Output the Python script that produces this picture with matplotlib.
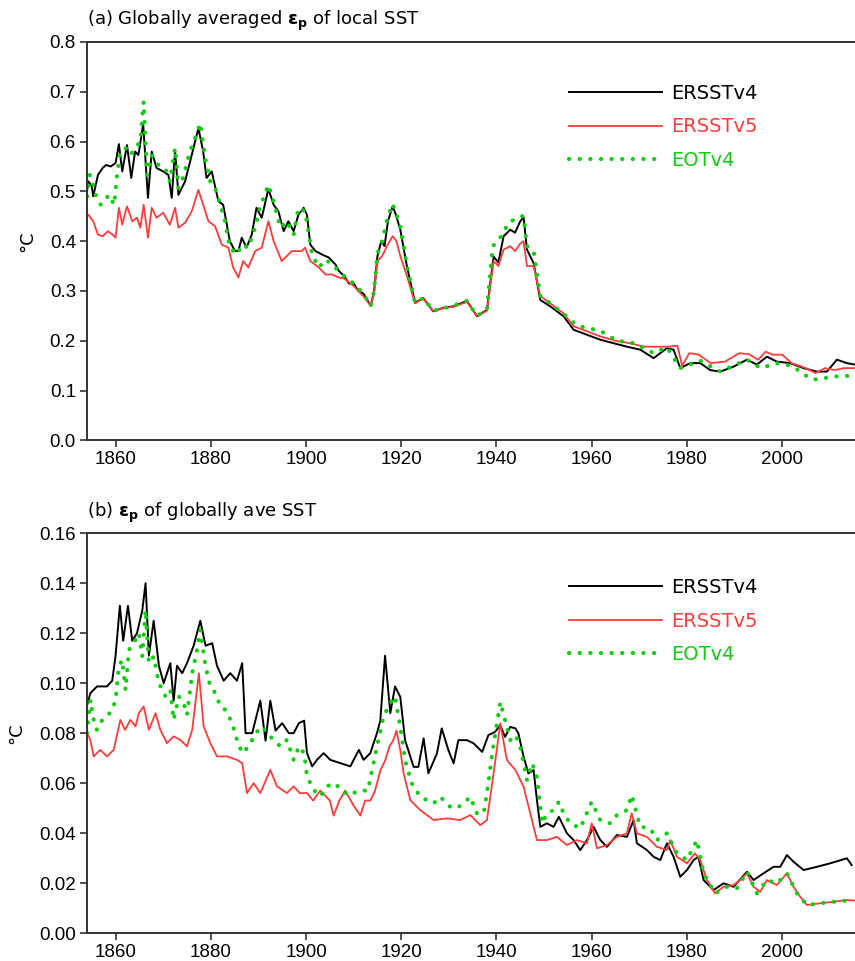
import matplotlib
matplotlib.use("Agg")
import matplotlib.pyplot as plt

# ---------------- data: panel (a) Globally averaged eps_p of local SST ----------------
a_v4_years = [1854.0, 1854.3, 1855.0, 1855.3, 1856.3, 1857.3, 1858.0, 1859.0, 1860.0, 1860.7,
              1861.4, 1862.4, 1863.3, 1864.1, 1864.8, 1865.8, 1866.8, 1867.6, 1868.6, 1870.0,
              1871.1, 1871.8, 1872.5, 1873.2, 1874.6, 1876.0, 1877.4, 1878.4, 1879.1, 1880.2,
              1881.6, 1882.6, 1884.0, 1885.1, 1885.8, 1886.5, 1887.5, 1888.6, 1889.6, 1890.7,
              1892.1, 1893.2, 1894.2, 1895.3, 1896.3, 1897.4, 1898.4, 1899.5, 1900.2, 1900.9,
              1902.0, 1903.4, 1904.8, 1906.2, 1906.9, 1908.0, 1909.0, 1910.0, 1911.0, 1912.0,
              1913.0, 1913.6, 1914.3, 1915.0, 1915.8, 1916.5, 1917.2, 1918.2, 1918.8, 1919.8,
              1921.2, 1922.9, 1924.6, 1926.7, 1928.8, 1930.9, 1933.8, 1935.9, 1938.0, 1939.4,
              1940.4, 1941.5, 1942.9, 1943.9, 1945.0, 1945.7, 1946.4, 1947.8, 1949.2, 1951.3,
              1954.1, 1956.2, 1959.0, 1961.8, 1964.6, 1967.4, 1970.2, 1973.0, 1975.8, 1977.2,
              1978.6, 1980.7, 1982.8, 1984.9, 1987.0, 1989.8, 1992.6, 1994.7, 1996.8, 1998.9,
              2001.7, 2004.5, 2007.3, 2009.4, 2011.5, 2013.6, 2015.3]
a_v4 = [0.500, 0.520, 0.510, 0.490, 0.533, 0.547, 0.553, 0.550, 0.557, 0.595,
        0.540, 0.593, 0.527, 0.580, 0.573, 0.635, 0.487, 0.580, 0.547, 0.540,
        0.533, 0.487, 0.580, 0.493, 0.520, 0.573, 0.627, 0.580, 0.527, 0.540,
        0.480, 0.473, 0.400, 0.380, 0.380, 0.407, 0.387, 0.413, 0.467, 0.447,
        0.505, 0.473, 0.460, 0.420, 0.440, 0.420, 0.453, 0.467, 0.453, 0.393,
        0.380, 0.373, 0.367, 0.353, 0.340, 0.330, 0.315, 0.315, 0.300, 0.295,
        0.280, 0.270, 0.300, 0.370, 0.400, 0.390, 0.440, 0.470, 0.455, 0.423,
        0.349, 0.276, 0.286, 0.259, 0.266, 0.269, 0.280, 0.249, 0.262, 0.369,
        0.357, 0.410, 0.423, 0.417, 0.440, 0.448, 0.383, 0.356, 0.282, 0.269,
        0.249, 0.222, 0.212, 0.202, 0.195, 0.188, 0.182, 0.165, 0.185, 0.182,
        0.145, 0.155, 0.155, 0.141, 0.138, 0.148, 0.162, 0.152, 0.168, 0.158,
        0.155, 0.145, 0.138, 0.138, 0.162, 0.155, 0.152]

a_v5_years = [1854.0, 1854.3, 1855.3, 1856.3, 1857.3, 1858.4, 1859.4, 1860.0, 1860.7, 1861.4,
              1862.4, 1863.5, 1864.5, 1865.2, 1865.9, 1866.8, 1867.6, 1868.6, 1870.0, 1871.4,
              1872.5, 1873.2, 1874.6, 1876.0, 1877.4, 1878.4, 1879.5, 1880.9, 1882.3, 1883.7,
              1884.7, 1885.8, 1886.8, 1887.9, 1889.3, 1890.7, 1892.1, 1893.2, 1894.9, 1897.0,
              1899.1, 1899.8, 1900.9, 1902.7, 1904.1, 1905.5, 1906.9, 1908.0, 1910.0, 1912.0,
              1913.6, 1914.3, 1915.0, 1916.0, 1917.0, 1918.2, 1919.0, 1919.8, 1921.2, 1922.9,
              1924.6, 1926.7, 1928.8, 1930.9, 1933.8, 1935.9, 1938.0, 1939.4, 1940.4, 1941.5,
              1942.9, 1943.9, 1945.0, 1945.7, 1946.4, 1947.8, 1949.2, 1951.3, 1954.1, 1956.2,
              1959.0, 1962.0, 1965.0, 1968.0, 1971.0, 1974.0, 1976.0, 1978.0, 1979.0, 1980.5,
              1982.5, 1985.0, 1988.0, 1991.0, 1993.0, 1995.0, 1996.5, 1998.0, 2000.0, 2002.0,
              2005.0, 2007.0, 2009.0, 2011.0, 2013.0, 2015.3]
a_v5 = [0.450, 0.453, 0.440, 0.413, 0.410, 0.420, 0.413, 0.407, 0.467, 0.433,
        0.470, 0.440, 0.447, 0.427, 0.473, 0.407, 0.467, 0.447, 0.457, 0.433,
        0.467, 0.427, 0.437, 0.460, 0.503, 0.473, 0.440, 0.430, 0.393, 0.387,
        0.347, 0.327, 0.360, 0.347, 0.380, 0.387, 0.440, 0.400, 0.360, 0.380,
        0.380, 0.387, 0.360, 0.347, 0.333, 0.333, 0.327, 0.325, 0.310, 0.290,
        0.270, 0.295, 0.360, 0.370, 0.390, 0.410, 0.400, 0.370, 0.330, 0.275,
        0.285, 0.260, 0.265, 0.268, 0.278, 0.250, 0.260, 0.360, 0.350, 0.383,
        0.390, 0.380, 0.395, 0.400, 0.350, 0.350, 0.290, 0.275, 0.255, 0.229,
        0.219, 0.208, 0.200, 0.195, 0.188, 0.188, 0.188, 0.190, 0.150, 0.175,
        0.172, 0.155, 0.158, 0.175, 0.173, 0.162, 0.178, 0.172, 0.172, 0.155,
        0.145, 0.135, 0.145, 0.141, 0.145, 0.145]

a_eot_years = [1854.0, 1854.6, 1855.3, 1856.0, 1856.9, 1857.7, 1858.7, 1859.7, 1860.3, 1861.0,
               1862.1, 1863.1, 1864.1, 1865.2, 1865.9, 1866.6, 1867.6, 1869.0, 1870.4, 1871.4,
               1872.5, 1873.2, 1874.2, 1875.6, 1876.7, 1877.8, 1878.8, 1879.9, 1880.9, 1882.0,
               1883.0, 1884.0, 1885.5, 1886.5, 1887.9, 1889.3, 1890.3, 1892.1, 1893.2, 1894.6,
               1896.0, 1897.4, 1898.4, 1899.8, 1901.3, 1902.7, 1904.1, 1905.5, 1906.9, 1908.0,
               1910.0, 1912.0, 1913.6, 1914.3, 1915.0, 1916.0, 1917.2, 1918.2, 1918.8, 1919.8,
               1921.2, 1922.9, 1924.6, 1926.7, 1928.8, 1930.9, 1933.8, 1935.9, 1938.0, 1939.2,
               1940.4, 1941.5, 1942.9, 1943.9, 1945.0, 1945.7, 1946.4, 1947.8, 1949.2, 1950.6,
               1953.4, 1957.0, 1961.8, 1965.3, 1968.9, 1973.0, 1975.8, 1978.6, 1982.8, 1987.0,
               1992.6, 1995.5, 1998.9, 2001.7, 2004.5, 2005.5, 2007.3, 2010.8, 2015.3]
a_eot = [0.490, 0.533, 0.513, 0.487, 0.473, 0.483, 0.493, 0.473, 0.533, 0.580,
         0.587, 0.573, 0.587, 0.600, 0.680, 0.533, 0.573, 0.553, 0.547, 0.520,
         0.587, 0.507, 0.527, 0.580, 0.607, 0.637, 0.567, 0.520, 0.507, 0.473,
         0.440, 0.387, 0.373, 0.393, 0.387, 0.427, 0.467, 0.513, 0.480, 0.427,
         0.440, 0.413, 0.467, 0.460, 0.373, 0.347, 0.363, 0.353, 0.340, 0.330,
         0.315, 0.295, 0.270, 0.300, 0.375, 0.400, 0.450, 0.475, 0.460, 0.430,
         0.350, 0.276, 0.286, 0.260, 0.265, 0.270, 0.280, 0.250, 0.262, 0.390,
         0.400, 0.420, 0.440, 0.443, 0.450, 0.450, 0.390, 0.380, 0.290, 0.280,
         0.260, 0.230, 0.220, 0.200, 0.195, 0.175, 0.187, 0.145, 0.160, 0.138,
         0.162, 0.145, 0.155, 0.150, 0.135, 0.125, 0.122, 0.128, 0.130]

# ---------------- data: panel (b) eps_p of globally ave SST ----------------
b_v4_years = [1854.0, 1854.7, 1856.1, 1858.2, 1859.3, 1860.0, 1860.9, 1861.6, 1862.6, 1863.5,
              1864.5, 1865.6, 1866.3, 1867.0, 1868.0, 1869.1, 1870.1, 1871.5, 1872.2, 1872.9,
              1874.0, 1875.0, 1876.4, 1877.8, 1878.9, 1880.3, 1881.3, 1882.7, 1884.1, 1885.5,
              1886.6, 1887.3, 1888.7, 1890.4, 1891.5, 1892.5, 1893.6, 1895.0, 1896.4, 1897.4,
              1898.5, 1899.6, 1900.2, 1901.3, 1902.3, 1903.7, 1905.1, 1907.2, 1909.3, 1911.1,
              1912.1, 1913.5, 1914.9, 1915.6, 1916.6, 1917.7, 1918.7, 1919.8, 1920.8, 1922.6,
              1923.6, 1924.7, 1925.7, 1927.5, 1928.5, 1929.9, 1931.0, 1932.0, 1933.8, 1935.2,
              1937.0, 1938.3, 1939.7, 1940.8, 1941.8, 1942.9, 1944.0, 1944.6, 1945.7, 1946.7,
              1947.8, 1948.5, 1949.2, 1950.6, 1952.0, 1953.1, 1954.8, 1956.2, 1957.6, 1959.0,
              1960.4, 1961.8, 1963.2, 1965.3, 1967.4, 1968.8, 1969.5, 1971.6, 1973.0, 1974.4,
              1975.8, 1977.2, 1978.6, 1980.0, 1981.4, 1982.4, 1983.5, 1985.6, 1987.7, 1989.8,
              1992.6, 1994.0, 1996.1, 1998.2, 1999.6, 2001.0, 2002.4, 2004.5, 2007.3, 2010.1,
              2013.6, 2014.6]
b_v4 = [0.0910, 0.0960, 0.0987, 0.0987, 0.1010, 0.1110, 0.1310, 0.1170, 0.1310, 0.1170,
        0.1200, 0.1290, 0.1400, 0.1110, 0.1250, 0.1070, 0.1000, 0.1080, 0.0930, 0.1070,
        0.1040, 0.1080, 0.1150, 0.1250, 0.1150, 0.1160, 0.1070, 0.1010, 0.1040, 0.1010,
        0.1080, 0.0800, 0.0800, 0.0930, 0.0770, 0.0930, 0.0810, 0.0840, 0.0800, 0.0800,
        0.0840, 0.0850, 0.0720, 0.0667, 0.0693, 0.0720, 0.0693, 0.0680, 0.0667, 0.0733,
        0.0693, 0.0720, 0.0800, 0.0850, 0.1110, 0.0880, 0.0987, 0.0945, 0.0772, 0.0665,
        0.0665, 0.0779, 0.0639, 0.0719, 0.0819, 0.0732, 0.0679, 0.0772, 0.0772, 0.0759,
        0.0725, 0.0792, 0.0805, 0.0832, 0.0785, 0.0825, 0.0819, 0.0799, 0.0705, 0.0639,
        0.0652, 0.0532, 0.0425, 0.0439, 0.0425, 0.0465, 0.0399, 0.0372, 0.0332, 0.0372,
        0.0425, 0.0372, 0.0345, 0.0392, 0.0385, 0.0452, 0.0359, 0.0332, 0.0305, 0.0292,
        0.0359, 0.0305, 0.0225, 0.0252, 0.0292, 0.0305, 0.0212, 0.0172, 0.0199, 0.0185,
        0.0245, 0.0212, 0.0239, 0.0265, 0.0265, 0.0312, 0.0285, 0.0252, 0.0265, 0.0279,
        0.0299, 0.0272]

b_v5_years = [1854.0, 1854.7, 1855.4, 1856.8, 1858.2, 1859.6, 1861.0, 1862.0, 1863.1, 1864.2,
              1864.9, 1865.9, 1867.0, 1868.4, 1869.4, 1870.8, 1872.2, 1873.6, 1875.0, 1876.1,
              1877.5, 1878.5, 1879.9, 1881.3, 1883.4, 1885.5, 1886.6, 1887.6, 1889.0, 1890.4,
              1892.5, 1893.9, 1896.0, 1897.4, 1898.7, 1900.2, 1901.5, 1903.0, 1905.0, 1905.8,
              1907.0, 1908.2, 1910.0, 1911.4, 1912.4, 1913.5, 1914.5, 1915.6, 1916.6, 1917.6,
              1918.3, 1919.0, 1919.8, 1920.5, 1921.9, 1924.0, 1926.8, 1929.6, 1932.4, 1934.5,
              1936.6, 1938.0, 1939.4, 1940.8, 1942.2, 1944.0, 1945.7, 1947.1, 1948.5, 1950.6,
              1952.7, 1954.8, 1956.9, 1959.0, 1960.0, 1961.1, 1963.2, 1965.3, 1967.4, 1968.4,
              1969.5, 1971.6, 1973.7, 1975.8, 1976.5, 1977.9, 1980.0, 1981.7, 1982.8, 1984.2,
              1985.9, 1987.7, 1989.8, 1991.2, 1992.6, 1994.0, 1995.4, 1996.8, 1998.9, 2001.0,
              2002.4, 2003.8, 2005.2, 2008.0, 2010.8, 2013.6, 2015.3]
b_v5 = [0.0800, 0.0773, 0.0707, 0.0733, 0.0707, 0.0733, 0.0853, 0.0813, 0.0853, 0.0827,
        0.0880, 0.0907, 0.0813, 0.0880, 0.0813, 0.0760, 0.0787, 0.0773, 0.0747, 0.0813,
        0.1040, 0.0827, 0.0760, 0.0707, 0.0707, 0.0693, 0.0680, 0.0560, 0.0600, 0.0560,
        0.0653, 0.0587, 0.0560, 0.0587, 0.0560, 0.0560, 0.0530, 0.0570, 0.0530, 0.0470,
        0.0530, 0.0570, 0.0510, 0.0470, 0.0530, 0.0530, 0.0570, 0.0650, 0.0690, 0.0750,
        0.0770, 0.0810, 0.0732, 0.0639, 0.0532, 0.0492, 0.0452, 0.0459, 0.0452, 0.0472,
        0.0432, 0.0452, 0.0639, 0.0839, 0.0692, 0.0652, 0.0585, 0.0479, 0.0372, 0.0372,
        0.0385, 0.0352, 0.0372, 0.0359, 0.0439, 0.0339, 0.0352, 0.0385, 0.0399, 0.0479,
        0.0399, 0.0385, 0.0345, 0.0332, 0.0372, 0.0305, 0.0279, 0.0319, 0.0292, 0.0212,
        0.0159, 0.0185, 0.0192, 0.0212, 0.0239, 0.0185, 0.0165, 0.0212, 0.0192, 0.0239,
        0.0185, 0.0145, 0.0112, 0.0119, 0.0125, 0.0132, 0.0130]

b_eot_years = [1854.0, 1854.7, 1855.4, 1856.1, 1857.2, 1858.2, 1859.3, 1860.0, 1860.7, 1861.4,
               1862.1, 1862.8, 1863.8, 1864.9, 1865.6, 1866.3, 1867.0, 1868.0, 1869.1, 1870.5,
               1871.5, 1872.2, 1873.3, 1874.3, 1875.0, 1876.1, 1877.1, 1877.8, 1878.9, 1879.9,
               1881.0, 1882.0, 1883.1, 1884.5, 1885.5, 1886.6, 1888.0, 1889.4, 1890.8, 1891.8,
               1893.2, 1894.6, 1896.0, 1897.4, 1898.5, 1899.6, 1900.2, 1901.6, 1903.0, 1904.4,
               1905.8, 1907.2, 1909.0, 1911.0, 1913.0, 1914.9, 1916.3, 1917.7, 1918.7, 1919.8,
               1920.8, 1922.2, 1924.0, 1925.4, 1926.8, 1928.2, 1930.3, 1931.7, 1933.8, 1934.5,
               1935.9, 1937.3, 1938.3, 1939.0, 1940.1, 1940.8, 1941.8, 1942.9, 1944.0, 1945.0,
               1946.4, 1947.5, 1948.5, 1949.6, 1950.6, 1952.0, 1953.1, 1954.1, 1955.5, 1957.6,
               1960.0, 1961.8, 1963.9, 1965.3, 1967.4, 1968.4, 1970.2, 1972.3, 1973.7, 1975.8,
               1977.9, 1980.0, 1982.1, 1983.5, 1985.9, 1988.4, 1990.5, 1992.6, 1994.7, 1996.8,
               1998.9, 2001.0, 2003.1, 2005.2, 2008.0, 2010.8, 2015.0]
b_eot = [0.0800, 0.0933, 0.0853, 0.0813, 0.0853, 0.0867, 0.0893, 0.0933, 0.1067, 0.1093,
         0.0973, 0.1133, 0.1160, 0.1200, 0.1107, 0.1293, 0.1080, 0.1107, 0.1000, 0.0947,
         0.0973, 0.0853, 0.0947, 0.0920, 0.0873, 0.1040, 0.1133, 0.1213, 0.1067, 0.0987,
         0.0960, 0.0907, 0.0893, 0.0840, 0.0773, 0.0720, 0.0747, 0.0800, 0.0827, 0.0800,
         0.0773, 0.0747, 0.0773, 0.0693, 0.0747, 0.0720, 0.0627, 0.0573, 0.0547, 0.0587,
         0.0600, 0.0580, 0.0550, 0.0570, 0.0570, 0.0747, 0.0867, 0.0920, 0.0947, 0.0825,
         0.0692, 0.0599, 0.0545, 0.0532, 0.0519, 0.0545, 0.0505, 0.0499, 0.0532, 0.0545,
         0.0479, 0.0479, 0.0599, 0.0705, 0.0839, 0.0925, 0.0852, 0.0772, 0.0792, 0.0745,
         0.0612, 0.0679, 0.0625, 0.0439, 0.0479, 0.0492, 0.0525, 0.0479, 0.0439, 0.0419,
         0.0525, 0.0452, 0.0439, 0.0472, 0.0492, 0.0552, 0.0425, 0.0419, 0.0372, 0.0399,
         0.0319, 0.0292, 0.0372, 0.0239, 0.0159, 0.0185, 0.0179, 0.0245, 0.0159, 0.0212,
         0.0199, 0.0239, 0.0159, 0.0112, 0.0119, 0.0125, 0.0132]

series_labels = ["ERSSTv4", "ERSSTv5", "EOTv4"]
x_ticks = [1860, 1880, 1900, 1920, 1940, 1960, 1980, 2000]
a_yticks = [0.0, 0.1, 0.2, 0.3, 0.4, 0.5, 0.6, 0.7, 0.8]
b_yticks = [0.00, 0.02, 0.04, 0.06, 0.08, 0.10, 0.12, 0.14, 0.16]
title_a = r"(a) Globally averaged $\boldsymbol{\varepsilon}_{\mathbf{p}}$ of local SST"
title_b = r"(b) $\boldsymbol{\varepsilon}_{\mathbf{p}}$ of globally ave SST"

# ---------------- styling ----------------
C_BLACK = "#000000"
C_RED = "#ff3c3c"
C_GREEN = "#10cc10"
SPINE = "#333333"

plt.rcParams["font.family"] = ["Liberation Sans", "DejaVu Sans"]

W, H = 855, 961
fig = plt.figure(figsize=(W / 100, H / 100), dpi=100)
left_px, right_px = 87, 855
ax_a = fig.add_axes([left_px / W, 1 - 440.3 / H, (right_px - left_px) / W, (440.3 - 42) / H])
ax_b = fig.add_axes([left_px / W, 1 - 933 / H, (right_px - left_px) / W, (933 - 533.3) / H])

panels = [
    (ax_a, (a_v4_years, a_v4), (a_v5_years, a_v5), (a_eot_years, a_eot),
     (0.0, 0.8), a_yticks, "{:.1f}", title_a, 0.895),
    (ax_b, (b_v4_years, b_v4), (b_v5_years, b_v5), (b_eot_years, b_eot),
     (0.0, 0.16), b_yticks, "{:.2f}", title_b, 0.888),
]

for ax, s4, s5, se, ylim, yt, fmt, title, leg_y in panels:
    ax.plot(s4[0], s4[1], color=C_BLACK, lw=1.4, label=series_labels[0])
    ax.plot(s5[0], s5[1], color=C_RED, lw=1.3, label=series_labels[1])
    ax.plot(se[0], se[1], color=C_GREEN, lw=3.0, linestyle=(0, (0.05, 2.5)),
            dash_capstyle="round", label=series_labels[2])
    ax.set_xlim(1854, 2015.3)
    ax.set_ylim(*ylim)
    ax.set_xticks(x_ticks)
    ax.set_xticklabels([str(t) for t in x_ticks])
    ax.set_yticks(yt)
    ax.set_yticklabels([fmt.format(t) for t in yt])
    ax.tick_params(direction="out", length=5, width=1.2, color=SPINE,
                   labelsize=13.5, pad=3)
    for side in ["left", "bottom", "top"]:
        ax.spines[side].set_color(SPINE)
        ax.spines[side].set_linewidth(1.4)
    ax.spines["right"].set_visible(False)
    ax.set_ylabel("°C", fontsize=13, labelpad=10, family="DejaVu Sans")
    ax.text(0.0, 1.022, title, transform=ax.transAxes, ha="left", va="bottom",
            fontsize=13, family="DejaVu Sans")
    leg = ax.legend(loc="upper left", bbox_to_anchor=(0.628, leg_y), frameon=False,
                    handlelength=4.75, handletextpad=0.5,
                    labelspacing=0.75, borderpad=0, borderaxespad=0,
                    prop={"family": "DejaVu Sans", "size": 14})
    for txt, c in zip(leg.get_texts(), [C_BLACK, C_RED, C_GREEN]):
        txt.set_color(c)

fig.savefig("out.png", dpi=100)
